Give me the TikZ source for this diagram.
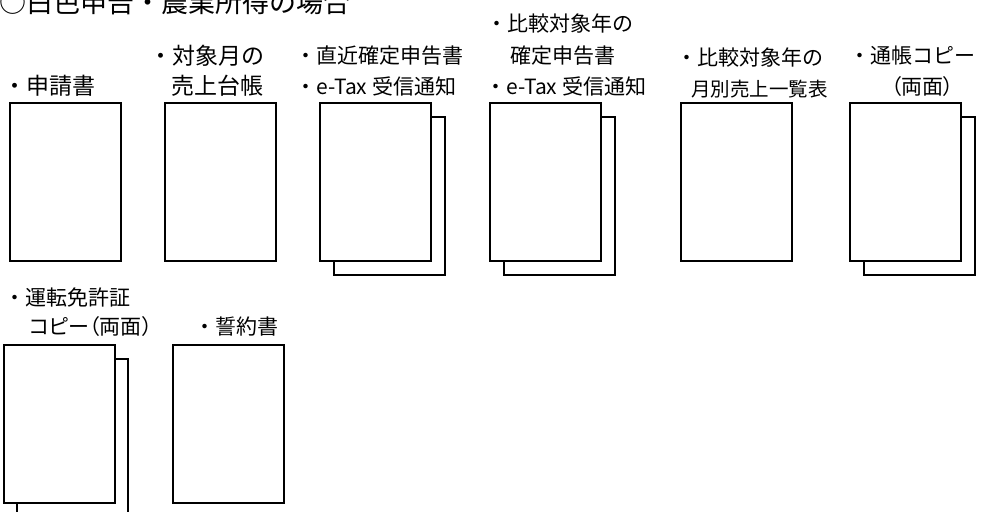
\documentclass[tikz,border=0pt]{standalone}
\usepackage{fontspec}
\setmainfont{Noto Sans CJK JP}
\begin{document}
\begin{tikzpicture}[x=1pt,y=-1pt,
  page/.style={draw=black, line width=1.6pt, fill=white, minimum width=111pt,
    minimum height=158pt, inner sep=0pt, outer sep=0pt, anchor=north west},
  lbl/.style={anchor=west, inner sep=0pt, font=\fontsize{21}{25}\selectfont},
  big/.style={font=\fontsize{23}{27}\selectfont},
  prop/.style={font=\fontsize{21}{25}\selectfont\addfontfeatures{RawFeature=+palt}},
  ttl/.style={anchor=west, inner sep=0pt, font=\fontsize{27}{32}\selectfont}]
\clip (0,0) rectangle (987,511);
% title
\node[ttl] (title) at (-1,2) {○白色申告・農業所得の場合};
% row 1 documents
\node[page] (p1) at (10,103) {};
\node[page] (p2) at (165,103) {};
\node[page] (p3b) at (334,117) {};
\node[page] (p3) at (320,103) {};
\node[page] (p4b) at (504,117) {};
\node[page] (p4) at (490,103) {};
\node[page] (p5) at (681,103) {};
\node[page] (p6b) at (864,117) {};
\node[page] (p6) at (850,103) {};
% row 2 documents
\node[page] (p7b) at (17,359) {};
\node[page] (p7) at (4,345) {};
\node[page] (p8) at (173,345) {};
% labels row 1
\node[lbl, big] (l1) at (3,86) {・申請書};
\node[lbl, big] (l2) at (149,56) {・対象月の};
\node[lbl, big] (l3) at (171,86) {売上台帳};
\node[lbl] (l4) at (295,56) {・直近確定申告書};
\node[lbl] (l5) at (295,86) {・e-Tax 受信通知};
\node[lbl] (l6) at (486,24) {・比較対象年の};
\node[lbl] (l7) at (510,56) {確定申告書};
\node[lbl] (l8) at (485,86) {・e-Tax 受信通知};
\node[lbl] (l9) at (676,58) {・比較対象年の};
\node[lbl, font=\fontsize{19.5}{24}\selectfont] (l10) at (691,89) {月別売上一覧表};
\node[lbl] (l11) at (849,56) {・通帳コピー};
\node[lbl, prop] (l12) at (891,87) {（両面）};
% labels row 2
\node[lbl] (l13) at (4,297) {・運転免許証};
\node[lbl, prop] (l14) at (29,327) {コピー（両面）};
\node[lbl] (l15) at (194,327) {・誓約書};
\end{tikzpicture}
\end{document}
